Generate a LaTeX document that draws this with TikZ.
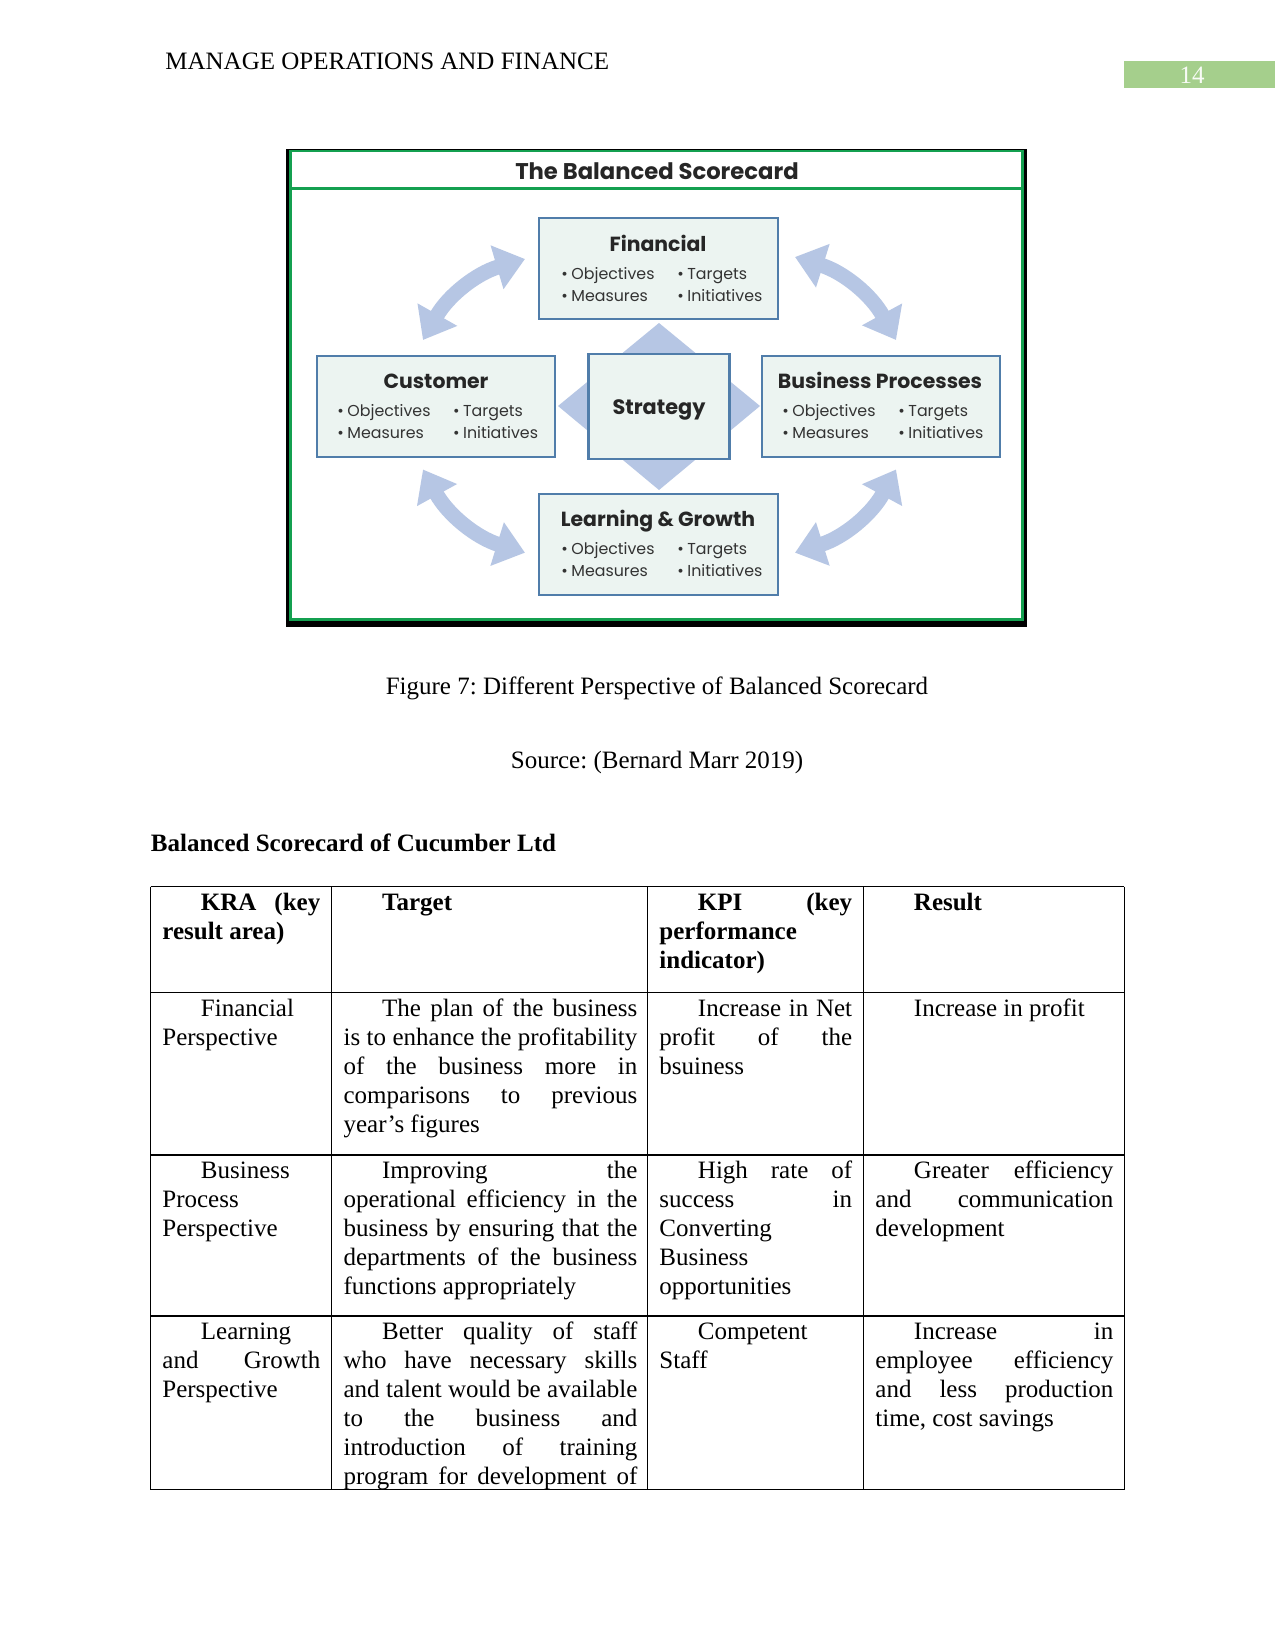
\documentclass[tikz,border=0pt]{standalone}
\usepackage{fontspec}
\setmainfont{Liberation Serif}
\newfontfamily\diag{Poppins}
\usetikzlibrary{arrows.meta,shapes.geometric}
\definecolor{boxfill}{RGB}{236,244,241}
\definecolor{boxline}{RGB}{80,125,170}
\definecolor{arrowblue}{RGB}{182,198,228}
\definecolor{framegreen}{RGB}{20,160,80}
\definecolor{pagegreen}{RGB}{165,207,140}
\newcommand{\jln}[2]{\makebox[#1][s]{#2}}
\newcommand{\jind}[2]{\hspace*{18.5pt}\makebox[\dimexpr#1-18.5pt\relax][s]{#2}}
\newcommand{\indt}{\hspace*{18.5pt}}
\newcommand{\bitem}[1]{\textbullet\hspace{0.22em}#1}
\def\cwa{75.8pt}
\def\cwb{141pt}
\def\cwc{92.5pt}
\def\cwd{114.2pt}
\frenchspacing
\tikzset{
 bsbox/.style={draw=boxline, line width=1pt, fill=boxfill, inner sep=0},
 ttl/.style={font=\diag\bfseries\fontsize{9.8}{12}\selectfont, text=black!85, anchor=mid, inner sep=0},
 bul/.style={font=\diag\fontsize{7.6}{10}\selectfont, anchor=mid west, inner sep=0, text=black!80},
 cell/.style={anchor=base west, inner sep=0, font=\fontsize{12}{13.85}\selectfont},
 txt/.style={inner sep=0, font=\fontsize{12}{13.85}\selectfont},
 bigarrow/.style={draw=arrowblue, line width=7.2pt, {Triangle[width=21pt,length=14pt]}-{Triangle[width=21pt,length=14pt]}},
 tline/.style={line width=0.6pt, black}
}
\begin{document}
\begin{tikzpicture}[x=0.48pt,y=-0.48pt]
\useasboundingbox (0,0) rectangle (1275,1651);
% header
\node[txt, anchor=base west] (hdr) at (165,69.5) {MANAGE OPERATIONS AND FINANCE};
\fill[pagegreen] (1124,61) rectangle (1275,88);
\node[txt, anchor=base, text=white!92!pagegreen] (pnum) at (1192,84) {14};
% frame
\fill[black] (286,149) rectangle (1026.5,627);
\fill[white] (290,150.5) rectangle (1023,620);
\draw[framegreen, line width=1pt] (290.5,151) rectangle (1022.5,619.5);
\draw[framegreen, line width=1pt] (290.5,188.5) -- (1022.5,188.5);
\node[font=\diag\bfseries\fontsize{10.9}{13}\selectfont, text=black!85, anchor=mid, inner sep=0] (title) at (657,174.5) {The Balanced Scorecard};
% diamond
\fill[arrowblue] (659,323) -- (760,406) -- (659,490) -- (558,406) -- cycle;
% arrows
\coordinate (tla) at (423,340); \coordinate (tlb) at (525,259);
\coordinate (tra) at (795,257); \coordinate (trb) at (896,340);
\coordinate (bra) at (896,469.5); \coordinate (brb) at (795,552.7);
\coordinate (bla) at (525,552.7); \coordinate (blb) at (423,469.5);
\draw[bigarrow] (tla) to[bend left=22] (tlb);
\draw[bigarrow] (tra) to[bend left=22] (trb);
\draw[bigarrow] (bra) to[bend left=22] (brb);
\draw[bigarrow] (bla) to[bend left=22] (blb);
% boxes
\node[bsbox, minimum width=114.7pt, minimum height=48.5pt] (fin) at (658.5,268.5) {};
\node[bsbox, minimum width=114.2pt, minimum height=48.5pt] (cus) at (436,406.5) {};
\node[bsbox, minimum width=114.2pt, minimum height=48.5pt] (bp) at (881,406.5) {};
\node[bsbox, minimum width=114.7pt, minimum height=48.5pt] (lg) at (658.5,544.5) {};
\node[bsbox, minimum width=67.7pt, minimum height=50.5pt] (str) at (659,406.4) {};
\node[ttl, font=\diag\bfseries\fontsize{10}{12}\selectfont] (strt) at (659,410) {Strategy};
% Financial
\node[ttl] (fint) at (658,247) {Financial};
\node[bul] (f1) at (561,274.7) {\bitem{Objectives}};
\node[bul] (f2) at (677,274.7) {\bitem{Targets}};
\node[bul] (f3) at (561,296.8) {\bitem{Measures}};
\node[bul] (f4) at (677,296.8) {\bitem{Initiatives}};
% Customer
\node[ttl] (cust) at (436,384) {Customer};
\node[bul] (c1) at (337,411.5) {\bitem{Objectives}};
\node[bul] (c2) at (452.7,411.5) {\bitem{Targets}};
\node[bul] (c3) at (337,433.6) {\bitem{Measures}};
\node[bul] (c4) at (452.7,433.6) {\bitem{Initiatives}};
% Business processes
\node[ttl] (bpt) at (880,384) {Business Processes};
\node[bul] (b1) at (782,411.5) {\bitem{Objectives}};
\node[bul] (b2) at (898,411.5) {\bitem{Targets}};
\node[bul] (b3) at (782,433.6) {\bitem{Measures}};
\node[bul] (b4) at (898,433.6) {\bitem{Initiatives}};
% Learning
\node[ttl] (lgt) at (658,522) {Learning \& Growth};
\node[bul] (l1) at (561,549.5) {\bitem{Objectives}};
\node[bul] (l2) at (677,549.5) {\bitem{Targets}};
\node[bul] (l3) at (561,571.6) {\bitem{Measures}};
\node[bul] (l4) at (677,571.6) {\bitem{Initiatives}};
% captions
\node[txt, anchor=base] (cap) at (657,694.4) {Figure 7: Different Perspective of Balanced Scorecard};
\node[txt, anchor=base] (src) at (657,768) {Source: (Bernard Marr 2019)};
\node[txt, anchor=base west, font=\bfseries\fontsize{12}{13.85}\selectfont] (tabt) at (150.5,851.3) {Balanced Scorecard of Cucumber Ltd};
% table grid
\foreach \yy in {886.5,992.8,1155,1316,1489.7} \draw[tline] (150.5,\yy) -- (1124.4,\yy);
\foreach \xx in {150.5,331.6,647.5,863.3,1124.4} \draw[tline] (\xx,886.5) -- (\xx,1489.7);
% header row
\node[cell] (h1) at (162,910.3) {\parbox[t]{\cwa}{\bfseries\jind{\cwa}{KRA (key}\\result area)}};
\node[cell] (h2) at (343.2,910.3) {\parbox[t]{\cwb}{\bfseries\indt Target}};
\node[cell] (h3) at (659,910.3) {\parbox[t]{\cwc}{\bfseries\jind{\cwc}{KPI (key}\\performance\\indicator)}};
\node[cell] (h4) at (875,910.3) {\parbox[t]{\cwd}{\bfseries\indt Result}};
% row 1
\node[cell] (a1) at (162,1016.6) {\parbox[t]{\cwa}{\indt Financial\\Perspective}};
\node[cell] (a2) at (343.2,1016.6) {\parbox[t]{\cwb}{\jind{\cwb}{The plan of the business}\\\jln{\cwb}{is to enhance the profitability}\\\jln{\cwb}{of the business more in}\\\jln{\cwb}{comparisons to previous}\\year’s figures}};
\node[cell] (a3) at (659,1016.6) {\parbox[t]{\cwc}{\jind{\cwc}{Increase in Net}\\\jln{\cwc}{profit of the}\\bsuiness}};
\node[cell] (a4) at (875,1016.6) {\parbox[t]{\cwd}{\indt Increase in profit}};
% row 2
\node[cell] (b1c) at (162,1178.7) {\parbox[t]{\cwa}{\indt Business\\Process\\Perspective}};
\node[cell] (b2c) at (343.2,1178.7) {\parbox[t]{\cwb}{\jind{\cwb}{Improving the}\\\jln{\cwb}{operational efficiency in the}\\\jln{\cwb}{business by ensuring that the}\\\jln{\cwb}{departments of the business}\\functions appropriately}};
\node[cell] (b3c) at (659,1178.7) {\parbox[t]{\cwc}{\jind{\cwc}{High rate of}\\\jln{\cwc}{success in}\\Converting\\Business\\opportunities}};
\node[cell] (b4c) at (875,1178.7) {\parbox[t]{\cwd}{\jind{\cwd}{Greater efficiency}\\\jln{\cwd}{and communication}\\development}};
% row 3
\node[cell] (d1) at (162,1339.8) {\parbox[t]{\cwa}{\indt Learning\\\jln{\cwa}{and Growth}\\Perspective}};
\node[cell] (d2) at (343.2,1339.8) {\parbox[t]{\cwb}{\jind{\cwb}{Better quality of staff}\\\jln{\cwb}{who have necessary skills}\\\jln{\cwb}{and talent would be available}\\\jln{\cwb}{to the business and}\\\jln{\cwb}{introduction of training}\\\jln{\cwb}{program for development of}}};
\node[cell] (d3) at (659,1339.8) {\parbox[t]{\cwc}{\indt Competent\\Staff}};
\node[cell] (d4) at (875,1339.8) {\parbox[t]{\cwd}{\jind{\cwd}{Increase in}\\\jln{\cwd}{employee efficiency}\\\jln{\cwd}{and less production}\\time, cost savings}};
\end{tikzpicture}
\end{document}
